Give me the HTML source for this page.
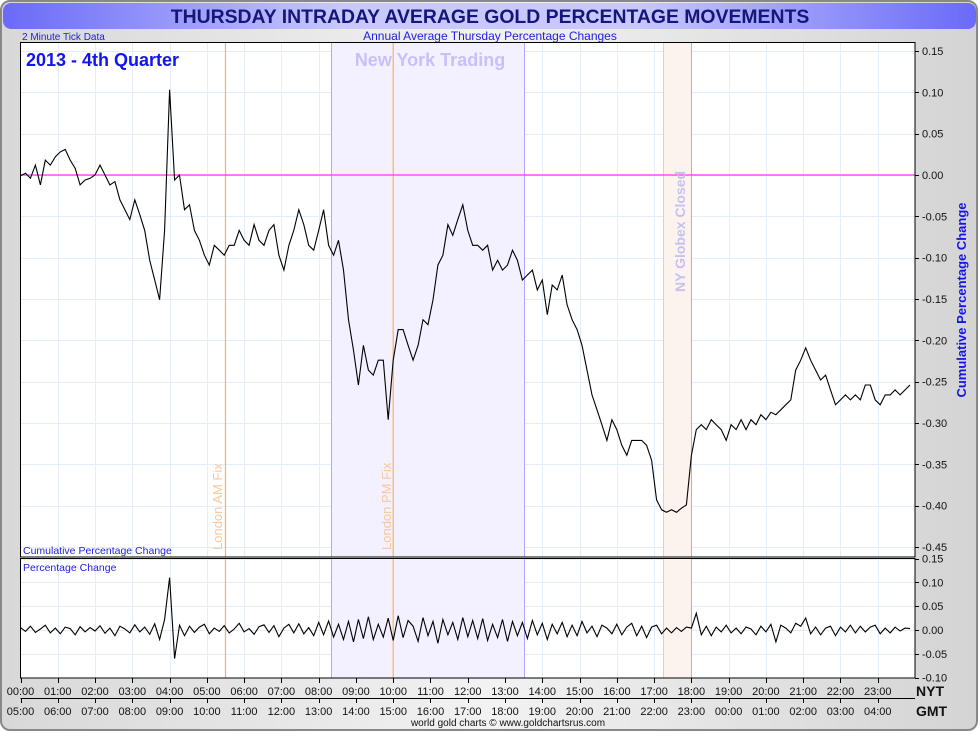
<!DOCTYPE html>
<html><head><meta charset="utf-8"><style>
body{margin:0;background:#fff;}
svg{display:block;font-family:"Liberation Sans",sans-serif;}
</style></head><body>
<svg id="chart" width="980" height="733" viewBox="0 0 980 733" xmlns="http://www.w3.org/2000/svg">
<defs>
<linearGradient id="bg" x1="0" y1="0" x2="1" y2="0"><stop offset="0" stop-color="#d8d8d8"/><stop offset="0.5" stop-color="#f2f2f2"/><stop offset="1" stop-color="#d4d4d4"/></linearGradient>
<linearGradient id="tb" x1="0" y1="0" x2="1" y2="0"><stop offset="0" stop-color="#6a6af8"/><stop offset="0.35" stop-color="#c8c8fc"/><stop offset="0.65" stop-color="#c8c8fc"/><stop offset="1" stop-color="#6a6af8"/></linearGradient>
<clipPath id="cMain"><rect x="20.5" y="42" width="894.5" height="515"/></clipPath>
<clipPath id="cLow"><rect x="20.5" y="559" width="894.5" height="119"/></clipPath>
</defs>
<rect x="1" y="1" width="976" height="729" rx="9" fill="url(#bg)" stroke="#888" stroke-width="2"/>
<rect x="3" y="3" width="973" height="26" rx="8" fill="url(#tb)"/>
<text x="490" y="23" text-anchor="middle" font-size="19.4" font-weight="bold" fill="#15157a">THURSDAY INTRADAY AVERAGE GOLD PERCENTAGE MOVEMENTS</text>
<text x="22" y="40" font-size="10" fill="#2020e0">2 Minute Tick Data</text>
<text x="490" y="40" text-anchor="middle" font-size="12" fill="#2020e0">Annual Average Thursday Percentage Changes</text>
<rect x="20.5" y="42" width="894.5" height="636" fill="#fff"/>
<g id="grid"></g>
<g id="bands"></g>
<g id="series"></g>
<rect x="20.5" y="42.5" width="894.5" height="514.5" fill="none" stroke="#000" stroke-width="1"/>
<rect x="20.5" y="558.5" width="894.5" height="119.5" fill="none" stroke="#000" stroke-width="1"/>
<text x="26" y="66" font-size="18" font-weight="bold" fill="#1414ee">2013 - 4th Quarter</text>
<text x="430" y="66" text-anchor="middle" font-size="18" font-weight="bold" fill="#c8c0f8">New York Trading</text>
<text transform="translate(222,550) rotate(-90)" font-size="13" fill="#f8c898">London AM Fix</text>
<text transform="translate(391,550) rotate(-90)" font-size="13" fill="#f8c898">London PM Fix</text>
<text transform="translate(685,292) rotate(-90)" font-size="14" font-weight="bold" fill="#c8c0f0">NY Globex Closed</text>
<text x="23" y="554" font-size="10.5" fill="#2020e0">Cumulative Percentage Change</text>
<text x="23" y="571" font-size="10.5" fill="#2020e0">Percentage Change</text>
<text transform="translate(966,300) rotate(-90)" text-anchor="middle" font-size="13" font-weight="bold" fill="#1414ee">Cumulative Percentage Change</text>
<g id="axes"></g>
<text x="916" y="696" font-size="14" font-weight="bold" fill="#111">NYT</text>
<text x="916" y="716" font-size="14" font-weight="bold" fill="#111">GMT</text>
<text x="508" y="726" text-anchor="middle" font-size="10" fill="#111">world gold charts © www.goldchartsrus.com</text>
</svg>
<script>
const cumValues=[-0.001,0.002,-0.004,0.012,-0.012,0.018,0.012,0.022,0.028,0.031,0.018,0.008,-0.012,-0.006,-0.004,0,0.012,0,-0.012,-0.008,-0.030,-0.042,-0.054,-0.030,-0.048,-0.067,-0.103,-0.127,-0.151,-0.067,0.103,-0.006,0,-0.042,-0.036,-0.067,-0.079,-0.097,-0.109,-0.085,-0.091,-0.097,-0.085,-0.085,-0.067,-0.079,-0.085,-0.060,-0.079,-0.085,-0.067,-0.060,-0.097,-0.115,-0.085,-0.067,-0.042,-0.060,-0.085,-0.091,-0.067,-0.042,-0.085,-0.097,-0.079,-0.115,-0.175,-0.212,-0.254,-0.206,-0.236,-0.242,-0.224,-0.224,-0.296,-0.224,-0.187,-0.187,-0.206,-0.224,-0.206,-0.175,-0.181,-0.151,-0.109,-0.097,-0.060,-0.073,-0.054,-0.036,-0.067,-0.085,-0.085,-0.091,-0.085,-0.115,-0.103,-0.115,-0.109,-0.091,-0.103,-0.127,-0.121,-0.115,-0.139,-0.127,-0.169,-0.133,-0.139,-0.121,-0.157,-0.175,-0.187,-0.206,-0.236,-0.266,-0.284,-0.302,-0.321,-0.296,-0.308,-0.327,-0.339,-0.321,-0.321,-0.321,-0.327,-0.345,-0.393,-0.405,-0.408,-0.405,-0.408,-0.403,-0.399,-0.339,-0.308,-0.302,-0.308,-0.296,-0.302,-0.308,-0.321,-0.302,-0.308,-0.296,-0.308,-0.296,-0.302,-0.290,-0.296,-0.287,-0.290,-0.284,-0.278,-0.272,-0.236,-0.224,-0.209,-0.224,-0.236,-0.248,-0.242,-0.260,-0.278,-0.272,-0.266,-0.272,-0.266,-0.272,-0.254,-0.254,-0.272,-0.278,-0.266,-0.266,-0.260,-0.266,-0.260,-0.254];
const pctValues=[0.005,-0.003,0.008,-0.005,0.002,0.010,-0.006,0.004,-0.008,0.006,0.003,-0.010,0.007,-0.004,0.005,-0.002,0.009,-0.007,0.004,-0.012,0.008,0.002,-0.006,0.011,-0.004,0.006,-0.009,0.013,-0.020,0.022,
0.110,-0.060,
0.010,-0.012,0.008,-0.005,0.006,0.012,-0.008,0.004,-0.003,0.009,-0.006,0.002,0.014,-0.004,0.003,-0.009,0.007,0.011,-0.005,0.009,-0.014,0.004,0.012,-0.006,0.013,-0.008,0.005,-0.012,0.016,-0.010,0.019,-0.015,0.012,-0.020,
0.018,-0.025,0.022,-0.018,0.028,-0.020,0.012,-0.015,0.025,-0.022,0.030,-0.016,0.020,0.008,-0.024,0.026,-0.012,0.018,-0.028,0.022,-0.010,0.016,-0.020,0.026,-0.014,0.020,-0.018,0.024,-0.022,0.012,-0.016,0.022,-0.024,0.018,-0.012,
0.016,-0.018,0.020,-0.010,0.014,-0.020,0.012,-0.008,0.016,-0.014,0.010,-0.012,0.018,-0.006,0.008,-0.014,0.010,0.004,-0.008,0.012,-0.010,0.006,0.014,-0.012,0.008,-0.016,0.006,0.010,-0.008,
0.004,-0.006,0.005,-0.003,0.006,0.004,
0.035,
-0.010,0.008,-0.012,0.006,-0.004,0.010,-0.006,0.004,-0.008,0.006,0.002,-0.010,0.008,-0.004,0.012,-0.025,0.010,0.004,-0.006,0.014,0.008,0.025,-0.008,0.006,-0.010,0.004,0.008,-0.012,0.006,-0.004,0.010,-0.006,0.008,-0.004,0.006,0.010,-0.008,0.004,-0.006,0.006,-0.002,0.004,0.003];
const stepMinutes=8;
const mainTicks=[0.15,0.10,0.05,0.00,-0.05,-0.10,-0.15,-0.20,-0.25,-0.30,-0.35,-0.40,-0.45];
const lowTicks=[0.15,0.10,0.05,0.00,-0.05,-0.10];
const nytLabels=["00:00","01:00","02:00","03:00","04:00","05:00","06:00","07:00","08:00","09:00","10:00","11:00","12:00","13:00","14:00","15:00","16:00","17:00","18:00","19:00","20:00","21:00","22:00","23:00"];
const gmtLabels=["05:00","06:00","07:00","08:00","09:00","10:00","11:00","12:00","13:00","14:00","15:00","16:00","17:00","18:00","19:00","20:00","21:00","22:00","23:00","00:00","01:00","02:00","03:00","04:00"];
const fixHours=[5.5,10];
const nyBand=[8.33,13.5];
const globexBand=[17.25,18];

const NS="http://www.w3.org/2000/svg";
const X0=20.5,X1=915;
const xH=h=>X0+(X1-X0)*h/24;
const xC=h=>Math.round(xH(h))+0.5;
const yMain=v=>175-(v*826.7);
const yLow=v=>630-(v*476);
function mk(tag,attrs,parent){const e=document.createElementNS(NS,tag);for(const k in attrs)e.setAttribute(k,attrs[k]);parent.appendChild(e);return e;}
const grid=document.getElementById('grid'),bands=document.getElementById('bands'),series=document.getElementById('series'),axes=document.getElementById('axes');
mk('rect',{x:20.5,y:557,width:894.5,height:1.5,fill:'#fff'},grid);
for(let h=1;h<24;h++){
  let l=mk('line',{x1:xC(h),x2:xC(h),y1:42,y2:557,stroke:'#e4eef8'},grid);
  
  
  let l2=mk('line',{x1:xC(h),x2:xC(h),y1:559,y2:678,stroke:'#e4eef8'},grid);
  
  
}
mainTicks.forEach(v=>{
  let yy=Math.round(yMain(v))+0.5;
  let l=mk('line',{x1:X0,x2:X1,y1:yy,y2:yy,stroke:'#e4eef8'},grid);
  
  
  mk('line',{x1:X1,x2:X1+4,y1:yy,y2:yy,stroke:'#000'},axes);
  let t=mk('text',{x:922,y:yMain(v)+4,'font-size':11,fill:'#111'},axes);
  t.textContent=v.toFixed(2);
  
  
});
lowTicks.forEach(v=>{
  let yy=Math.round(yLow(v))+0.5;
  let l=mk('line',{x1:X0,x2:X1,y1:yy,y2:yy,stroke:'#e4eef8'},grid);
  
  
  mk('line',{x1:X1,x2:X1+4,y1:yy,y2:yy,stroke:'#000'},axes);
  let t=mk('text',{x:922,y:yLow(v)+4,'font-size':11,fill:'#111'},axes);
  t.textContent=v.toFixed(2);
  
  
});
[[nyBand,'#f3f1ff','#b0a8f8','ny-trading-band'],[globexBand,'#fdf3ee','#b0a8f8','globex-closed-band']].forEach(([b,f,s,n])=>{
  [[42,515],[559,119]].forEach(([y,hh])=>{
    let r=mk('rect',{x:xC(b[0]),y:y,width:xC(b[1])-xC(b[0]),height:hh,fill:f},bands);
    
    
    mk('line',{x1:xC(b[0]),x2:xC(b[0]),y1:y,y2:y+hh,stroke:n==='globex-closed-band'?'#f8c8a8':s},bands);
    mk('line',{x1:xC(b[1]),x2:xC(b[1]),y1:y,y2:y+hh,stroke:s},bands);
  });
});
fixHours.forEach(h=>{
  [[42,557],[559,678]].forEach(([a,b])=>{
    let l=mk('line',{x1:xH(h),x2:xH(h),y1:a,y2:b,stroke:'#f8b060','stroke-width':1.2},bands);
    
    
  });
});
let z=mk('line',{x1:X0,x2:X1,y1:yMain(0),y2:yMain(0),stroke:'#ff30ff','stroke-width':1.2},bands);


const tH=i=>i*stepMinutes/60;
let d=cumValues.map((v,i)=>(i?'L':'M')+xH(tH(i)).toFixed(1)+','+yMain(v).toFixed(1)).join('');
let p=mk('path',{d:d,fill:'none',stroke:'#000','stroke-width':1.1,'clip-path':'url(#cMain)'},series);


let d2=pctValues.map((v,i)=>(i?'L':'M')+xH(tH(i)).toFixed(1)+','+yLow(v).toFixed(1)).join('');
let p2=mk('path',{d:d2,fill:'none',stroke:'#000','stroke-width':1.1,'clip-path':'url(#cLow)'},series);


mk('line',{x1:X0,x2:X1,y1:698.5,y2:698.5,stroke:'#000'},axes);
for(let h=0;h<24;h++){
  mk('line',{x1:xC(h),x2:xC(h),y1:678,y2:683,stroke:'#000'},axes);
  mk('line',{x1:xC(h),x2:xC(h),y1:698,y2:703,stroke:'#000'},axes);
  let t=mk('text',{x:xH(h),y:695,'font-size':11,'text-anchor':'middle',fill:'#111'},axes);
  t.textContent=nytLabels[h];
  
  
  let g=mk('text',{x:xH(h),y:715,'font-size':11,'text-anchor':'middle',fill:'#111'},axes);
  g.textContent=gmtLabels[h];
  
  
}
</script>
</body></html>
